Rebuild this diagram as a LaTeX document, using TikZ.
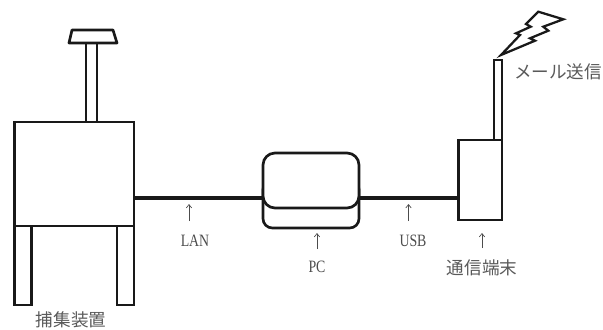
\documentclass[tikz,border=0pt]{standalone}
\usepackage{fontspec}
\setmainfont{Liberation Serif}
\newfontfamily\cjk{Noto Sans CJK JP}
\newfontfamily\latn[FakeStretch=0.8]{Liberation Serif}
\usetikzlibrary{arrows.meta}
\tikzset{
  body/.style={draw=black!90,line width=2pt,line join=miter,fill=white},
  cable/.style={draw=black!90,line width=2.8pt},
  lbl/.style={font=\fontsize{13.2}{15}\selectfont\cjk,text=black!65,inner sep=0pt},
  latin/.style={font=\fontsize{13}{15}\selectfont\latn,text=black!70,inner sep=0pt},
  uparrow/.style={draw=black!70,line width=0.5pt,-{Straight Barb[length=2.5pt,width=4pt]}},
  bolt/.style={draw=black!90,line width=1.7pt,line join=miter,fill=white}
}
\begin{document}
\begin{tikzpicture}[x=0.75pt,y=-0.75pt]
\useasboundingbox (0,0) rectangle (603,329);
\coordinate (lanA) at (134,198);
\coordinate (lanB) at (263,198);
\coordinate (usbA) at (359,198);
\coordinate (usbB) at (458,198);
\draw[cable] (lanA) -- (lanB);
\draw[cable] (usbA) -- (usbB);
% capture device
\draw[body] (86,43) rectangle (97,122);
\draw[body,line join=round] (72,30) -- (113,30) -- (117,43) -- (69,43) -- cycle;
\draw[body] (14.3,122) rectangle (134,226);
\draw[body] (14.3,226) rectangle (31.7,305);
\draw[body] (117,226) rectangle (134,305);
% PC
\draw[body,rounded corners=7pt] (263,180) rectangle (359,228);
\draw[body,rounded corners=9pt] (263,153) rectangle (359,208);
% terminal
\draw[body] (494,60) rectangle (502,140);
\draw[body] (458.3,140) rectangle (502,220);
% bolt
\draw[bolt] (501,55) -- (520,35) -- (516,33.3) -- (530.7,26.7) -- (526,24) -- (538.3,11.7)
  -- (563.3,19.3) -- (543.3,26.7) -- (548.3,30.7) -- (530,38.3) -- (535,40.7) -- cycle;
% labels
\node[lbl] (capt) at (71,319.5) {捕集装置};
\node[latin] (lan) at (195,241) {LAN};
\node[latin] (pc) at (317,267) {PC};
\node[latin] (usb) at (413,241) {USB};
\node[lbl] (term) at (482,268) {通信端末};
\node[lbl] (mail) at (558,72) {メール送信};
\coordinate (a1) at (189,221); \coordinate (a1t) at (189,204);
\coordinate (a2) at (317,249); \coordinate (a2t) at (317,233);
\coordinate (a3) at (408.5,221); \coordinate (a3t) at (408.5,204);
\coordinate (a4) at (482,248); \coordinate (a4t) at (482,233);
\draw[uparrow] (a1) -- (a1t);
\draw[uparrow] (a2) -- (a2t);
\draw[uparrow] (a3) -- (a3t);
\draw[uparrow] (a4) -- (a4t);
\end{tikzpicture}
\end{document}
